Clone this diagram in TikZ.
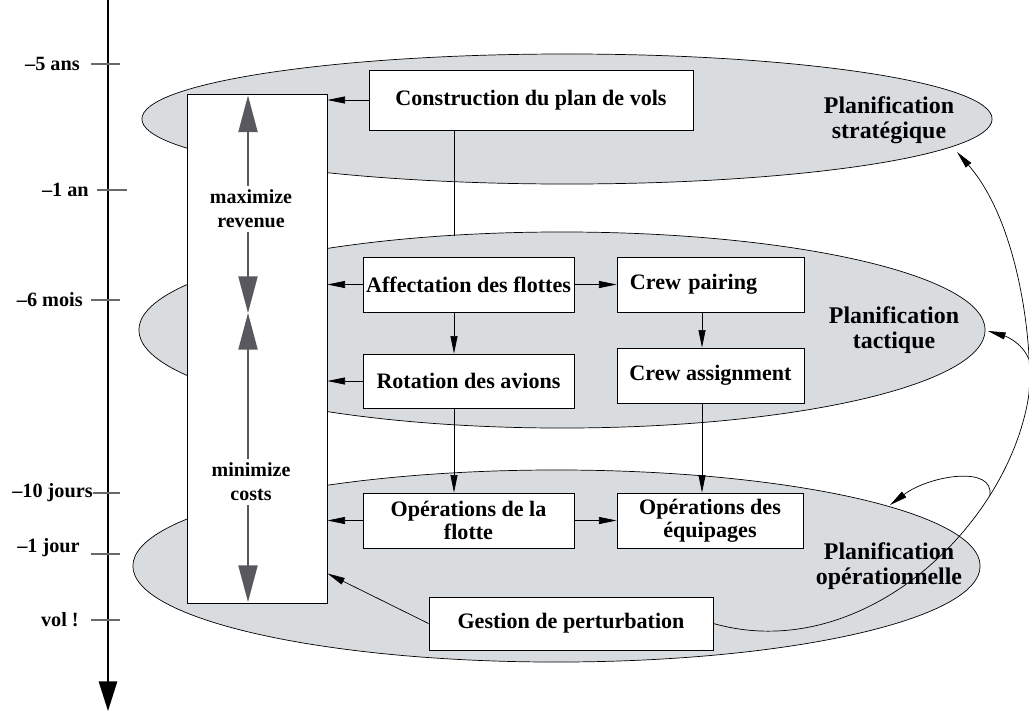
\documentclass[tikz,border=0pt]{standalone}
\usepackage{fontspec}
\setmainfont{Liberation Serif}
\usetikzlibrary{arrows.meta,calc,shapes.geometric}
\definecolor{plangray}{RGB}{217,220,223}
\definecolor{goalgray}{RGB}{88,88,94}
\definecolor{tickgray}{RGB}{105,105,105}
\newcommand{\axisfont}{\fontsize{14.4}{16}\selectfont\bfseries}
\newcommand{\taskfont}{\fontsize{15.7}{16.6}\selectfont\bfseries}
\newcommand{\planfont}{\fontsize{17}{17.8}\selectfont\bfseries}
\newcommand{\goalfont}{\fontsize{14.2}{17}\selectfont\bfseries}
\tikzset{
	plan/.style={ellipse, draw, fill=plangray, line width=0.5pt, inner sep=0pt},
	planlabel/.style={font=\planfont, align=center},
	task/.style={draw, fill=white, line width=0.6pt, font=\taskfont, align=center, inner sep=0pt},
	arr/.style={line width=0.5pt, -{Triangle[length=12.5pt,width=5pt]}},
	goal/.style={draw=goalgray, line width=1.4pt, arrows={Triangle[length=26pt,width=13.5pt]-Triangle[length=26pt,width=13.5pt]}},
	goallabel/.style={fill=white, font=\goalfont, align=center, inner sep=3pt},
	tickmark/.style={draw=tickgray, line width=0.8pt},
	axislabel/.style={anchor=east, font=\axisfont, inner sep=0pt}
}

\begin{document}
\begin{tikzpicture}[x=0.025cm, y=-0.025cm]
		%%%%% START %%%%%
		\useasboundingbox (0,0) rectangle (1029,711);
		
		\draw[line width=1.3pt, -{Triangle[length=21pt,width=13pt]}] (108,0) -- (108,711);
		
		\draw[tickmark] (91,64) -- (120,64);
		\node[axislabel] at (80,64) {–5 ans};
		\draw[tickmark] (97,190) -- (127,190);
		\node[axislabel] at (89,190) {–1 an};
		\draw[tickmark] (91,300) -- (120,300);
		\node[axislabel] at (83,300) {–6 mois};
		\draw[tickmark] (93,493) -- (120,493);
		\node[axislabel] at (93,493) {–10 jours};
		\draw[tickmark] (91,554) -- (120,554);
		\node[axislabel] at (80,548) {–1 jour};
		\draw[tickmark] (91,620) -- (120,620);
		\node[axislabel] at (79,620) {vol !};
		
		\node[plan, minimum width=21.25cm, minimum height=3.25cm] (strat) at (567,119) {};
		\node[plan, minimum width=21.15cm, minimum height=4.9cm] (tact) at (562,330) {};
		\node[plan, minimum width=21.175cm, minimum height=4.8cm] (oper) at (556.5,566) {};
		
		\node[planlabel] (stratlab) at (889,120) {Planification\\stratégique};
		\node[planlabel] (tactlab) at (894,330) {Planification\\tactique};
		\node[planlabel] (operlab) at (889,566) {Planification\\opérationnelle};
		
		\node[draw, fill=white, line width=0.6pt, minimum width=3.5cm, minimum height=12.725cm, inner sep=0pt] (obj) at (257,348.5) {};
		\coordinate (revtop) at (248,95.5);
		\coordinate (meet) at (248,313);
		\coordinate (costbot) at (248,602);
		\draw[goal] (meet) -- (revtop);
		\draw[goal] (meet) -- (costbot);
		\node[goallabel] (rev) at (251,209) {maximize\\revenue};
		\node[goallabel] (cost) at (251,482) {minimize\\costs};
		
		\node[task, minimum width=8.1cm, minimum height=1.5cm] (constr) at (531,100) {Construction du plan de vols};
		\node[task, minimum width=5.275cm, minimum height=1.375cm] (affect) at (468.5,284.5) {Affectation des flottes};
		\node[task, minimum width=5.275cm, minimum height=1.35cm] (rot) at (468.5,381) {Rotation des avions};
		\node[task, minimum height=1.375cm, inner xsep=0.325cm, text width=4.025cm, align=left] (pairing) at (710.5,284.5) {Crew pairing};
		\node[task, minimum width=4.675cm, minimum height=1.375cm] (assign) at (710.5,375.5) {Crew assignment};
		\node[task, minimum width=5.275cm, minimum height=1.375cm] (opflotte) at (468.5,520.5) {Opérations de la\\flotte};
		\node[task, minimum width=4.65cm, minimum height=1.375cm] (opequip) at (710,520.5) {Opérations des\\équipages};
		\node[task, minimum width=7.1cm, minimum height=1.325cm] (gest) at (571,623.5) {Gestion de perturbation};
		
		\coordinate (fleetx) at (454,236);
		\coordinate (crewx) at (702,0);
		\coordinate (gestin) at ($(obj.south east)+(0,-30)$);
		
		\draw[arr] (constr.west) -- (constr.west -| obj.east);
		\draw[line width=0.5pt] (constr.south -| fleetx) -- (fleetx);
		\draw[arr] (affect.west) -- (affect.west -| obj.east);
		\draw[arr] (affect.east) -- (pairing.west);
		\draw[arr] (affect.south -| fleetx) -- (rot.north -| fleetx);
		\draw[arr] (rot.west) -- (rot.west -| obj.east);
		\draw[arr] (rot.south -| fleetx) -- (opflotte.north -| fleetx);
		\draw[arr] (pairing.south -| crewx) -- (assign.north -| crewx);
		\draw[arr] (assign.south -| crewx) -- (opequip.north -| crewx);
		\draw[arr] (opflotte.west) -- (opflotte.west -| obj.east);
		\draw[arr] (opflotte.east) -- (opequip.west);
		\draw[arr] (gest.west) -- (gestin);
		
		\coordinate (tostrat) at (957,152);
		\coordinate (totact) at (988,331);
		\coordinate (tooper) at (890,505);
		
		\draw[arr] (gest.east) .. controls (860,665) and (1005,530) .. coordinate[pos=0.75] (loopfrom) (1028,400)
			.. controls (1034,370) and (1025,230) .. coordinate[pos=0.25] (tactfrom) (tostrat);
		\draw[arr] (tactfrom) .. controls (1022,342) and (1005,336) .. (totact);
		\draw[arr] (loopfrom) .. controls (995,465) and (930,475) .. (tooper);
		
		%%%%% END %%%%%
\end{tikzpicture}
\end{document}
